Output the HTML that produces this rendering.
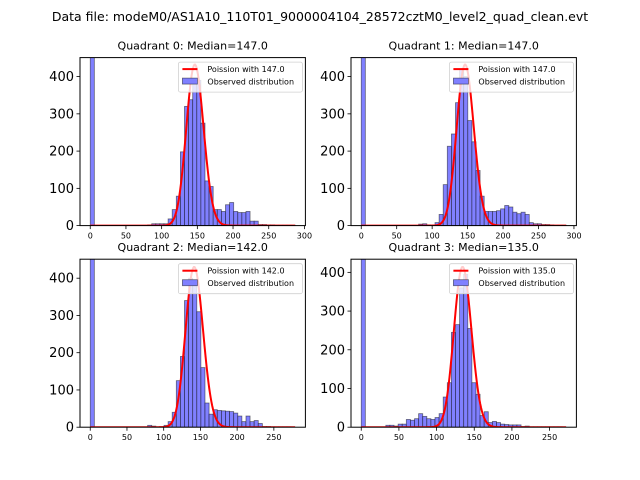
<!DOCTYPE html>
<html><head><meta charset="utf-8"><style>
body{margin:0;background:#fff;}
svg{display:block;font-family:"DejaVu Sans","Liberation Sans",sans-serif;}
</style></head><body>
<svg id="fig" width="640" height="480" viewBox="0 0 640 480" xmlns="http://www.w3.org/2000/svg">
<rect width="640" height="480" fill="#fff"/>
<text x="320" y="21" font-size="12.5" text-anchor="middle" fill="#000">Data file: modeM0/AS1A10_110T01_9000004104_28572cztM0_level2_quad_clean.evt</text>
</svg>
<script>
// ---- data ----
const quadNames = ["Quadrant 0","Quadrant 1","Quadrant 2","Quadrant 3"];
const medians = [147.0, 147.0, 142.0, 135.0];
const dataMax = [287, 289, 279, 272];
const yMax = [451, 451, 451, 434];
const curvePeak = [432, 432, 430, 414];
const yTicks = [0,100,200,300,400];
const xTicksTop = [0,50,100,150,200,250,300];
const xTicksBottom = [0,50,100,150,200,250];
const counts0 = [1500,0,0,0,0,0,0,0,0,0,0,0,0,0,2,5,5,5,5,18,43,79,198,320,338,385,390,275,120,105,43,43,38,56,62,38,35,35,38,12,12,3,3,2,2,1,1,1,1,1];
const counts1 = [1500,0,0,0,0,0,0,0,0,0,0,0,0,0,4,5,2,1,8,30,110,213,246,330,420,400,282,225,148,79,38,38,38,40,45,54,50,36,32,36,30,8,5,5,3,3,2,1,1,1];
const counts2 = [1500,0,0,0,0,0,0,0,0,0,0,0,0,0,5,3,1,1,5,15,40,125,190,340,400,380,310,160,65,35,47,45,44,43,42,38,30,15,30,15,18,10,2,2,1,1,1,1,1,0];
const counts3 = [1500,0,0,0,0,0,5,5,3,8,8,20,18,22,35,28,22,20,25,35,78,115,245,265,360,395,255,115,85,30,40,12,15,12,8,7,6,6,6,2,3,1,1,1,1,1,1,1,1,0];
const allCounts = [counts0, counts1, counts2, counts3];

const NS = "http://www.w3.org/2000/svg";
const svg = document.getElementById('fig');
function mk(tag, attrs, parent){ const e=document.createElementNS(NS,tag); for(const k in attrs) e.setAttribute(k,attrs[k]); (parent||svg).appendChild(e); return e; }
const boxes = [[80,57.6],[351,57.6],[80,259.2],[351,259.2]];
const W=225.4, H=168;
function logPmf(k,m){ let lf=0; for(let i=2;i<=k;i++) lf+=Math.log(i); return k*Math.log(m)-m-lf; }

for(let q=0;q<4;q++){
  const [x0,y0]=boxes[q];
  const X=dataMax[q], bw=X/50;
  const xmin=-0.05*X, xmax=1.05*X;
  const sx=v=>x0+(v-xmin)/(xmax-xmin)*W;
  const sy=v=>y0+H-(v/yMax[q])*H;
  const g=mk('g',{});
  
  
  const cp=mk('clipPath',{id:'cp'+q},g);
  mk('rect',{x:x0,y:y0,width:W,height:H},cp);
  const bars=mk('g',{'clip-path':'url(#cp'+q+')'},g);
  allCounts[q].forEach((c,i)=>{
    if(c<=0) return;
    const r=mk('rect',{x:sx(i*bw),y:sy(c),width:sx(bw)-sx(0),height:sy(0)-sy(c),fill:'#8080ff',stroke:'rgba(0,0,0,0.5)','stroke-width':0.8},bars);
    
    
  });
  // poisson curve
  const m=medians[q]; const lmax=logPmf(Math.floor(m),m);
  let d='';
  for(let k=0;k<=Math.round(X);k++){ const v=curvePeak[q]*Math.exp(logPmf(k,m)-lmax); d+=(k?'L':'M')+sx(k).toFixed(2)+' '+sy(v).toFixed(2); }
  const ln=mk('path',{d:d,fill:'none',stroke:'#ff0000','stroke-width':2,'clip-path':'url(#cp'+q+')'},g);
  
  
  // frame
  const fr=mk('rect',{x:x0,y:y0,width:W,height:H,fill:'none',stroke:'#000','stroke-width':1},g);
  
  
  // y ticks
  yTicks.forEach(t=>{
    if(t>yMax[q]) return;
    const y=sy(t);
    mk('line',{x1:x0-3.5,x2:x0,y1:y,y2:y,stroke:'#000','stroke-width':0.8},g);
    const tx=mk('text',{x:x0-6,y:y+4.5,'font-size':13,'text-anchor':'end',fill:'#000'},g);
    tx.textContent=t;
    
    
  });
  const xt = q<2? xTicksTop : xTicksBottom;
  xt.forEach(t=>{
    const x=sx(t);
    if(x>x0+W+1) return;
    mk('line',{x1:x,x2:x,y1:y0+H,y2:y0+H+3.5,stroke:'#000','stroke-width':0.8},g);
    const tx=mk('text',{x:x,y:y0+H+13,'font-size':8,'text-anchor':'middle',fill:'#000'},g);
    tx.textContent=t;
    
    
  });
  const tt=mk('text',{x:x0+W/2,y:y0-8,'font-size':11,'text-anchor':'middle',fill:'#000'},g);
  tt.textContent=quadNames[q]+': Median='+medians[q].toFixed(1);
  
  
  // legend
  const lx=x0+W-127, ly=y0+4.5;
  const lg=mk('g',{},g);
  
  
  mk('rect',{x:lx,y:ly,width:124,height:30,rx:2,fill:'rgba(255,255,255,0.8)',stroke:'#d0d0d0','stroke-width':0.8},lg);
  mk('line',{x1:lx+4,x2:lx+19,y1:ly+7,y2:ly+7,stroke:'#ff0000','stroke-width':2},lg);
  mk('rect',{x:lx+4,y:ly+16,width:15,height:6,fill:'#8080ff',stroke:'rgba(0,0,0,0.5)','stroke-width':0.8},lg);
  const t1=mk('text',{x:lx+29,y:ly+10,'font-size':8,fill:'#000'},lg);
  t1.textContent='Poission with '+medians[q].toFixed(1);
  
  
  const t2=mk('text',{x:lx+29,y:ly+22.5,'font-size':8,fill:'#000'},lg);
  t2.textContent='Observed distribution';
  
  
}
</script>
</body></html>
